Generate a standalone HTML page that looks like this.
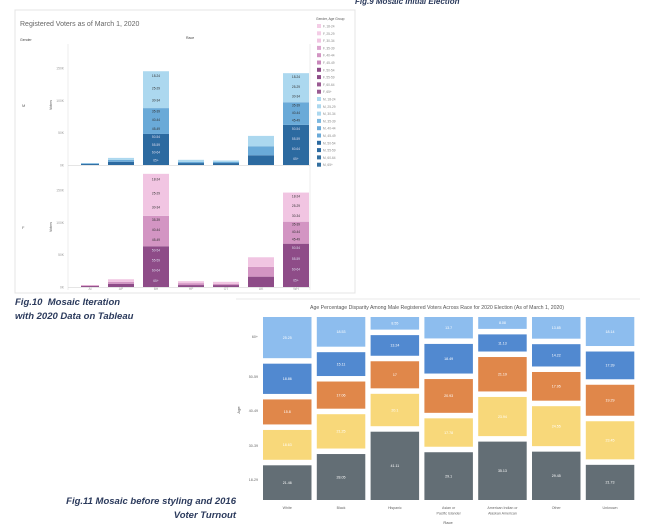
<!DOCTYPE html>
<html><head><meta charset="utf-8"><style>
body{margin:0;background:#fff;width:650px;height:532px;overflow:hidden;font-family:"Liberation Sans",sans-serif}
svg{position:absolute;left:0;top:0}
.cap{position:absolute;font-weight:bold;font-style:italic;font-size:9.5px;color:#2b3a5c;line-height:14px}
</style></head><body>
<svg id="s" width="650" height="532"></svg>
<div class="cap" style="left:15px;top:296px">Fig.10 &nbsp;Mosaic Iteration<br>with 2020 Data on Tableau</div>
<div class="cap" style="right:414px;top:495px;text-align:right">Fig.11 Mosaic before styling and 2016<br>Voter Turnout</div>
<script>
// ---- Fig.10 data (thousands of voters) ----
const tabRaces=["AI","AP","BH","HP","OT","UK","WH"];
const mOld=[1.5,5,48,3,3,15,62];   // 50+
const mMid=[1,3,40,2,2,14,35];     // 35-49
const mYoung=[0.5,3,57,3,2,16,45]; // 18-34
const fOld=[1.5,5,63,3,3,16,67];
const fMid=[1,3,47,3,2,15,34];
const fYoung=[0.5,4,65,3,3,15,45];
const yTicks=[0,50,100,150];
const ageGroups=["18-24","25-29","30-34","35-39","40-44","45-49","50-54","55-59","60-64","65+"];
// ---- Fig.11 data (percent) ----
const races=["White","Black","Hispanic","Asian or|Pacific Islander","American Indian or|Alaskan American","Other","Unknown"];
const ages=["18-29","30-39","40-49","50-59","60+"];
const a1829=[21.46,28.05,41.11,29.1,35.13,29.45,21.73];
const a3039=[18.63,21.25,20.1,17.78,23.94,24.55,23.45];
const a4049=[15.8,17.06,17,20.93,21.19,17.95,19.29];
const a5059=[18.86,15.11,13.24,18.49,11.13,14.22,17.39];
const a60=[25.25,18.53,8.55,13.7,8.08,13.85,18.14];

const S=document.getElementById('s'),NS="http://www.w3.org/2000/svg";
function el(t,a,txt){const e=document.createElementNS(NS,t);for(const k in a)e.setAttribute(k,a[k]);if(txt!==undefined)e.textContent=txt;S.appendChild(e);return e;}

// ---------- Fig.10 ----------
let e;
e=el('rect',{x:15,y:10,width:340,height:283,fill:'#fff',stroke:'#e4e4e4'});

e=el('text',{x:20,y:26,'font-size':7,fill:'#666'},'Registered Voters as of March 1, 2020');

e=el('text',{x:20,y:41,'font-size':3.5,fill:'#444'},'Gender');

e=el('text',{x:186,y:39,'font-size':3.5,fill:'#444'},'Race');

el('line',{x1:68,y1:44,x2:68,y2:290,stroke:'#eee'});
el('line',{x1:310,y1:44,x2:310,y2:290,stroke:'#eee'});
const cx=[90,121,156,191,226,261,296],bw=[18,26,26,26,26,26,26];
function panel(base,old,mid,young,cols,label,nm){
  const k=97/150;
  const y=v=>base-v*k;
  yTicks.forEach(t=>{e=el('text',{x:64,y:y(t)+1.5,'font-size':3.3,fill:'#999','text-anchor':'end'},t+'K');
    });
  e=el('text',{x:0,y:0,'font-size':3.5,fill:'#555','text-anchor':'middle',transform:`translate(52,${base-60}) rotate(-90)`},'Voters');
  
  e=el('text',{x:22,y:base-58,'font-size':4,fill:'#666'},label);
  
  el('line',{x1:68,y1:base+0.5,x2:310,y2:base+0.5,stroke:'#ccc','stroke-width':0.6});
  tabRaces.forEach((r,i)=>{
    const x=cx[i]-bw[i]/2;let acc=0;
    [[old[i],cols[0]],[mid[i],cols[1]],[young[i],cols[2]]].forEach((s,j)=>{
      e=el('rect',{x:x,y:y(acc+s[0]),width:bw[i],height:s[0]*k,fill:s[1]});
      
      const n=j==0?4:3,h=s[0]*k;
      if(h>20){for(let q=0;q<n;q++){
        const ag=j==0?["65+","60-64","55-59","50-54"][q]:j==1?["45-49","40-44","35-39"][q]:["30-34","25-29","18-24"][q];
        const ty=y(acc)-h*(q+0.6)/n;
        e=el('text',{x:cx[i],y:ty+1,'font-size':3.2,fill:j==0?'#dde':'#333','text-anchor':'middle'},ag);
        }}
      acc+=s[0];
    });
    if(base>200){e=el('text',{x:cx[i],y:290,'font-size':3.3,fill:'#999','text-anchor':'middle'},r);
      }
  });
}
panel(165,mOld,mMid,mYoung,['#2c6aa0','#6aaad8','#acd8ef'],'M','male');
panel(287,fOld,fMid,fYoung,['#8e4c88','#d395c3','#f1c5e2'],'F','female');
e=el('text',{x:316,y:20,'font-size':3.3,fill:'#555'},'Gender, Age Group');

const legCols=['#f4cde6','#f4cde6','#f1c5e2','#dca6cf','#d395c3','#c987bb','#8e4c88','#8e4c88','#9a5a92','#9a5a92','#acd8ef','#acd8ef','#acd8ef','#7cb8e0','#6aaad8','#6aaad8','#2c6aa0','#2c6aa0','#336f9f','#336f9f'];
legCols.forEach((c,i)=>{const g=i<10?'F':'M';const lbl=g+', '+ageGroups[i%10];
  e=el('rect',{x:317,y:24+i*7.3,width:4,height:4,fill:c});
  
  e=el('text',{x:323,y:27.5+i*7.3,'font-size':3.2,fill:'#888'},lbl);
  });
e=el('text',{x:355,y:4,'font-size':8,'font-weight':'bold','font-style':'italic',fill:'#2b3a5c'},'Fig.9 Mosaic Initial Election');


// ---------- Fig.11 ----------
el('line',{x1:236,y1:299,x2:640,y2:299,stroke:'#e8e8e8'});
e=el('text',{x:437,y:309,'font-size':5.2,fill:'#555','text-anchor':'middle'},'Age Percentage Disparity Among Male Registered Voters Across Race for 2020 Election (As of March 1, 2020)');

const cols=['#636e75','#f8d87a','#e0874a','#5189d0','#8dbdee'];
const series=[a1829,a3039,a4049,a5059,a60];
const mTop=316,mBot=501,mH=mBot-mTop,x0=262,cw=50.5,cg=3.3;
const yl=[481,447,412,378,338];
ages.forEach((a,j)=>{e=el('text',{x:258,y:yl[j],'font-size':3.6,fill:'#666','text-anchor':'end'},a);
  });
e=el('text',{x:0,y:0,'font-size':4,fill:'#555','text-anchor':'middle',transform:'translate(240,410) rotate(-90)'},'Age');

races.forEach((r,i)=>{
  const x=x0+i*(cw+cg);
  const tot=series.reduce((s,a)=>s+a[i],0);
  const avail=mH-4*3.5;let yy=mBot;
  series.forEach((a,j)=>{
    const h=a[i]/tot*avail;
    e=el('rect',{x:x+0.5,y:yy-h+0.5,width:cw-1,height:h-1,fill:cols[j],stroke:'#fff','stroke-width':1});
    
    e=el('text',{x:x+cw/2,y:yy-h/2+1.3,'font-size':3.6,fill:'#fff','text-anchor':'middle'},a[i]);
    
    yy-=h+3.5;
  });
  r.split('|').forEach((ln,k)=>{e=el('text',{x:x+cw/2,y:509+k*5.5,'font-size':3.6,fill:'#666','text-anchor':'middle'},ln);
    });
});
e=el('text',{x:448,y:524,'font-size':4,fill:'#555','text-anchor':'middle'},'Race');

</script>
</body></html>
